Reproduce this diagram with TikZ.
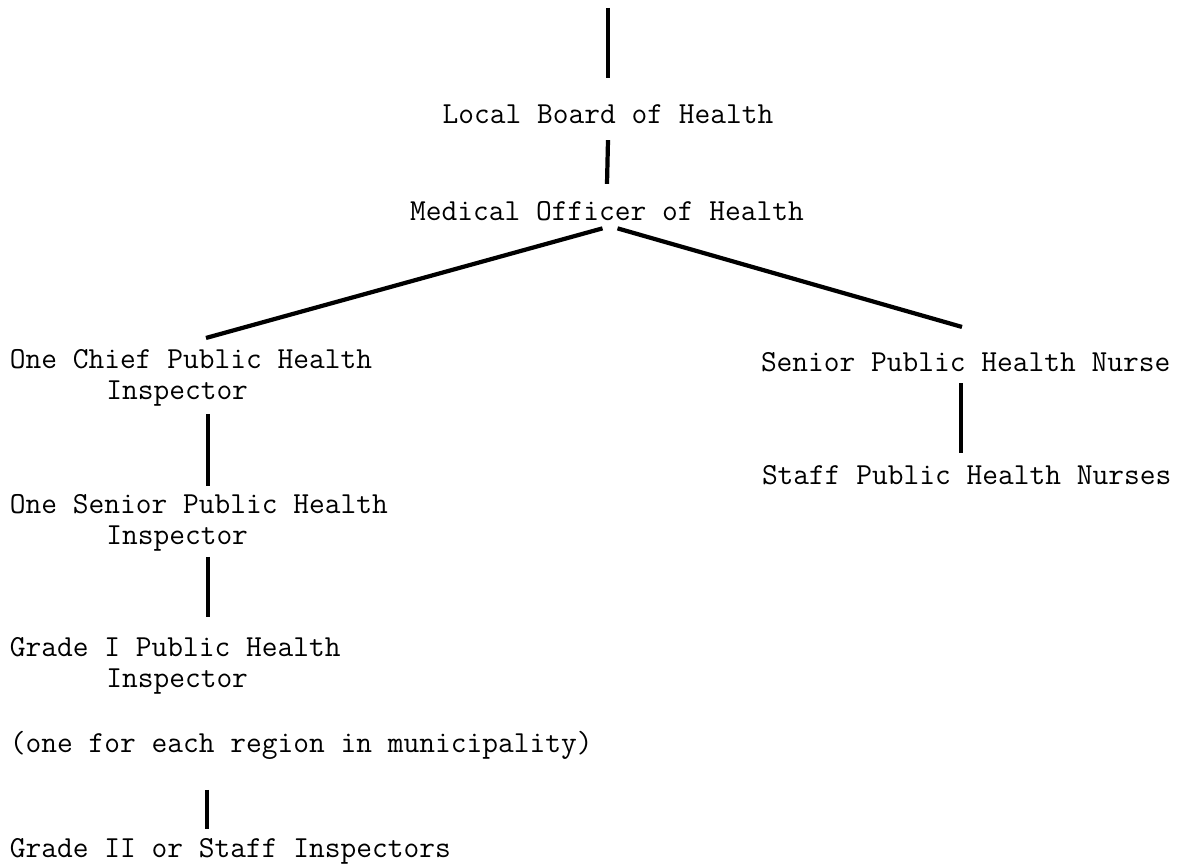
\documentclass[tikz,border=0pt]{standalone}
\usepackage{fontspec}
\usepackage{tikz}
\usetikzlibrary{calc}

\newcommand{\indt}{\hspace*{3.15em}}

\begin{document}
\begin{tikzpicture}[x=0.02cm, y=-0.02cm, every node/.style={inner sep=0pt, outer sep=0pt, align=left, font=\fontsize{17.4}{18.2}\selectfont\ttfamily}, link/.style={line width=2.4pt}]
  \useasboundingbox (0,0) rectangle (1181,864);
  \coordinate (top) at (608,8);
  \node[anchor=base] (lboh) at (608,124) {Local Board of Health};
  \node[anchor=base] (moh) at (607,221) {Medical Officer of Health};
  \node[anchor=base west] (cphi) at (10,400) {One Chief Public Health\\\indt Inspector};
  \node[anchor=base west] (sphi) at (10,545) {One Senior Public Health\\\indt Inspector};
  \node[anchor=base west] (gphi) at (10,688) {Grade I Public Health\\\indt Inspector};
  \node[anchor=base west] (note) at (10,753) {(one for each region in municipality)};
  \node[anchor=base west] (gsi) at (10,858) {Grade II or Staff Inspectors};
  \node[anchor=base west] (spn) at (761,372) {Senior Public Health Nurse};
  \node[anchor=base west] (sphn) at (762,485) {Staff Public Health Nurses};
  \draw[link] (top) -- ($(lboh.north)+(0,-27)$);
  \draw[link] ($(lboh.south)+(0,16)$) -- ($(moh.north)+(0,-18)$);
  \draw[link] ($(moh.south)+(-4.5,7)$) -- ($(cphi.north west)+(196,-11)$);
  \draw[link] ($(moh.south)+(10.5,7)$) -- ($(spn.north west)+(201,-26)$);
  \draw[link] ($(cphi.south west)+(198,7)$) -- ($(sphi.north west)+(198,-8)$);
  \draw[link] ($(sphi.south west)+(198,5)$) -- ($(gphi.north west)+(198,-20)$);
  \draw[link] ($(note.south west)+(197,30)$) -- ($(gsi.north west)+(197,-10)$);
  \draw[link] ($(spn.south west)+(200,11)$) -- ($(sphn.north west)+(199,-13)$);
\end{tikzpicture}
\end{document}
